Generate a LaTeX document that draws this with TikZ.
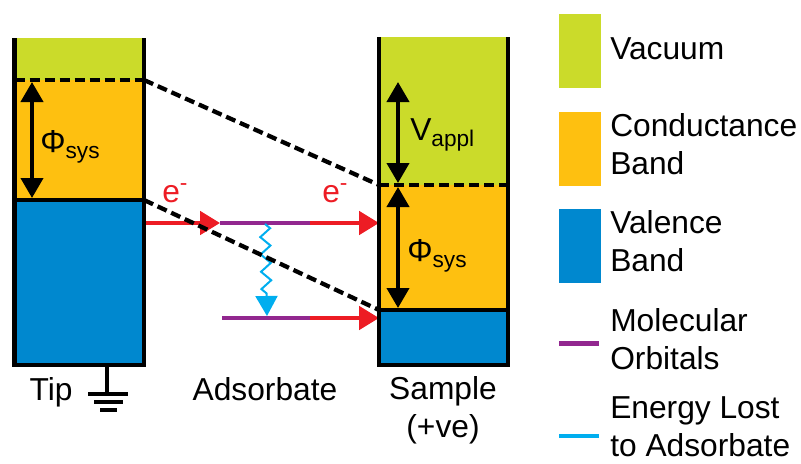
\documentclass[tikz,border=0pt]{standalone}
\usepackage{fontspec}
\setmainfont{Liberation Sans}
\usetikzlibrary{positioning,arrows.meta,decorations.pathmorphing}

\definecolor{vacgreen}{RGB}{203,219,42}
\definecolor{condorange}{RGB}{254,192,16}
\definecolor{valblue}{RGB}{0,136,207}
\definecolor{ered}{RGB}{237,28,36}
\definecolor{orbpurple}{RGB}{146,39,143}
\definecolor{losscyan}{RGB}{0,174,239}

\newcommand{\bandsub}[1]{\raisebox{-5pt}{\fontsize{17}{17}\selectfont #1}}
\newcommand{\elec}{e\raisebox{9pt}{\fontsize{17}{17}\selectfont -}}

\tikzset{
  wall/.style={line width=3.4pt},
  level/.style={line width=3.2pt, dash pattern=on 7.5pt off 3.75pt},
  gap/.style={line width=3pt, shorten <=1.5pt, shorten >=1.5pt,
    {Triangle[length=15pt,width=16.5pt]}-{Triangle[length=15pt,width=16.5pt]}},
  hop/.style={ered, line width=3pt, -{Triangle[length=15pt,width=17.5pt]}},
  orbital/.style={orbpurple, line width=3pt},
  loss/.style={losscyan, line width=1.5pt, -{Triangle[length=15pt,width=16.5pt]},
    decorate, decoration={zigzag, segment length=13pt, amplitude=3.75pt, post length=16pt}},
  lab/.style={font=\fontsize{23.8}{28}\selectfont, inner sep=0pt, align=left},
  swatch/.style={minimum width=31.5pt, minimum height=55pt, inner sep=0pt, anchor=north west},
}

\begin{document}
\begin{tikzpicture}[x=0.75pt,y=-0.75pt]
\useasboundingbox (0,0) rectangle (801,464);
%---------------------------------- tip
\coordinate (t0) at (14.5,38);
\coordinate (t1) at (144,80);
\coordinate (t2) at (144,200);
\coordinate (t3) at (14.5,365);
\fill[vacgreen] (t0) rectangle (t1);
\fill[condorange] (t0|-t1) rectangle (t2);
\fill[valblue] (t0|-t2) rectangle (t3-|t2);
%---------------------------------- sample
\coordinate (s0) at (379,37);
\coordinate (s1) at (508,185);
\coordinate (s2) at (508,310);
\coordinate (s3) at (379,365);
\fill[vacgreen] (s0) rectangle (s1);
\fill[condorange] (s0|-s1) rectangle (s2);
\fill[valblue] (s0|-s2) rectangle (s3-|s2);
%---------------------------------- tunnelling
\coordinate (mo1a) at (220,223);
\coordinate (mo1b) at (310,223);
\coordinate (mo2a) at (222,318);
\coordinate (mo2b) at (310,318);
\coordinate (w0) at (265,224);
\coordinate (w1) at (267,316);
\draw[hop] (t2|-mo1a) -- (mo1a);
\draw[orbital] (mo1a) -- (mo1b);
\draw[orbital] (mo2a) -- (mo2b);
\draw[hop] (mo1b) -- (s0|-mo1b);
\draw[hop] (mo2b) -- (s0|-mo2b);
\draw[loss] (w0) -- (w1);
%---------------------------------- walls and levels
\draw[wall] (t0) -- (t3) -- (t3-|t2) -- (t2|-t0);
\draw[wall] (t0|-t2) -- (t2);
\draw[wall] (s0) -- (s3) -- (s3-|s1) -- (s1|-s0);
\draw[wall] (s0|-s2) -- (s2);
\draw[level] (t0|-t1) -- (t1);
\draw[level] (s0|-s1) -- (s1);
\draw[level] (t1) -- (s0|-s1);
\draw[level] (t2) -- (s0|-s2);
%---------------------------------- gaps
\coordinate (g1) at (32,80);
\coordinate (g2) at (32,200);
\coordinate (g3) at (398,80);
\coordinate (g4) at (398,185);
\coordinate (g5) at (398,310);
\draw[gap] (g1) -- (g2);
\draw[gap] (g3) -- (g4);
\draw[gap] (g4) -- (g5);
\node[lab, anchor=base west] (phiTip) at (40,152) {Φ\bandsub{sys}};
\node[lab, anchor=base west] (vAppl) at (410,140) {V\bandsub{appl}};
\node[lab, anchor=base west] (phiSample) at (407,261) {Φ\bandsub{sys}};
\node[lab, ered, anchor=base west] (eTip) at (162,202) {\elec};
\node[lab, ered, anchor=base west] (eSample) at (322,202) {\elec};
%---------------------------------- ground
\coordinate (gnd) at (107,394);
\draw[line width=3pt] (t3-|gnd) -- (gnd);
\draw[line width=3pt] (88,394) -- (128,394);
\draw[line width=3pt] (94,402) -- (123,402);
\draw[line width=3pt] (100,410) -- (117,410);
%---------------------------------- names
\node[lab, anchor=base] (tipName) at (51,400) {Tip};
\node[lab, anchor=base] (adsName) at (265,400) {Adsorbate};
\node[lab, anchor=base, align=center] (sampleName) at (443,437) {Sample\\(+ve)};
%---------------------------------- key
\node[swatch, fill=vacgreen] (keyVac) at (559,14) {};
\node[swatch, fill=condorange] (keyCond) at (559,112) {};
\node[swatch, fill=valblue] (keyVal) at (559,209) {};
\coordinate (keyOrbA) at (559,343);
\coordinate (keyOrbB) at (599,343);
\coordinate (keyLossA) at (559,436);
\coordinate (keyLossB) at (599,436);
\draw[orbpurple, line width=3.75pt] (keyOrbA) -- (keyOrbB);
\draw[losscyan, line width=3pt] (keyLossA) -- (keyLossB);
\node[lab, anchor=base west] (txtVac) at (610,60) {Vacuum};
\node[lab, anchor=base west] (txtCond) at (610,174) {Conductance\\Band};
\node[lab, anchor=base west] (txtVal) at (610,271) {Valence\\Band};
\node[lab, anchor=base west] (txtOrb) at (610,369) {Molecular\\Orbitals};
\node[lab, anchor=base west] (txtLoss) at (610,456) {Energy Lost\\to Adsorbate};
\end{tikzpicture}
\end{document}
